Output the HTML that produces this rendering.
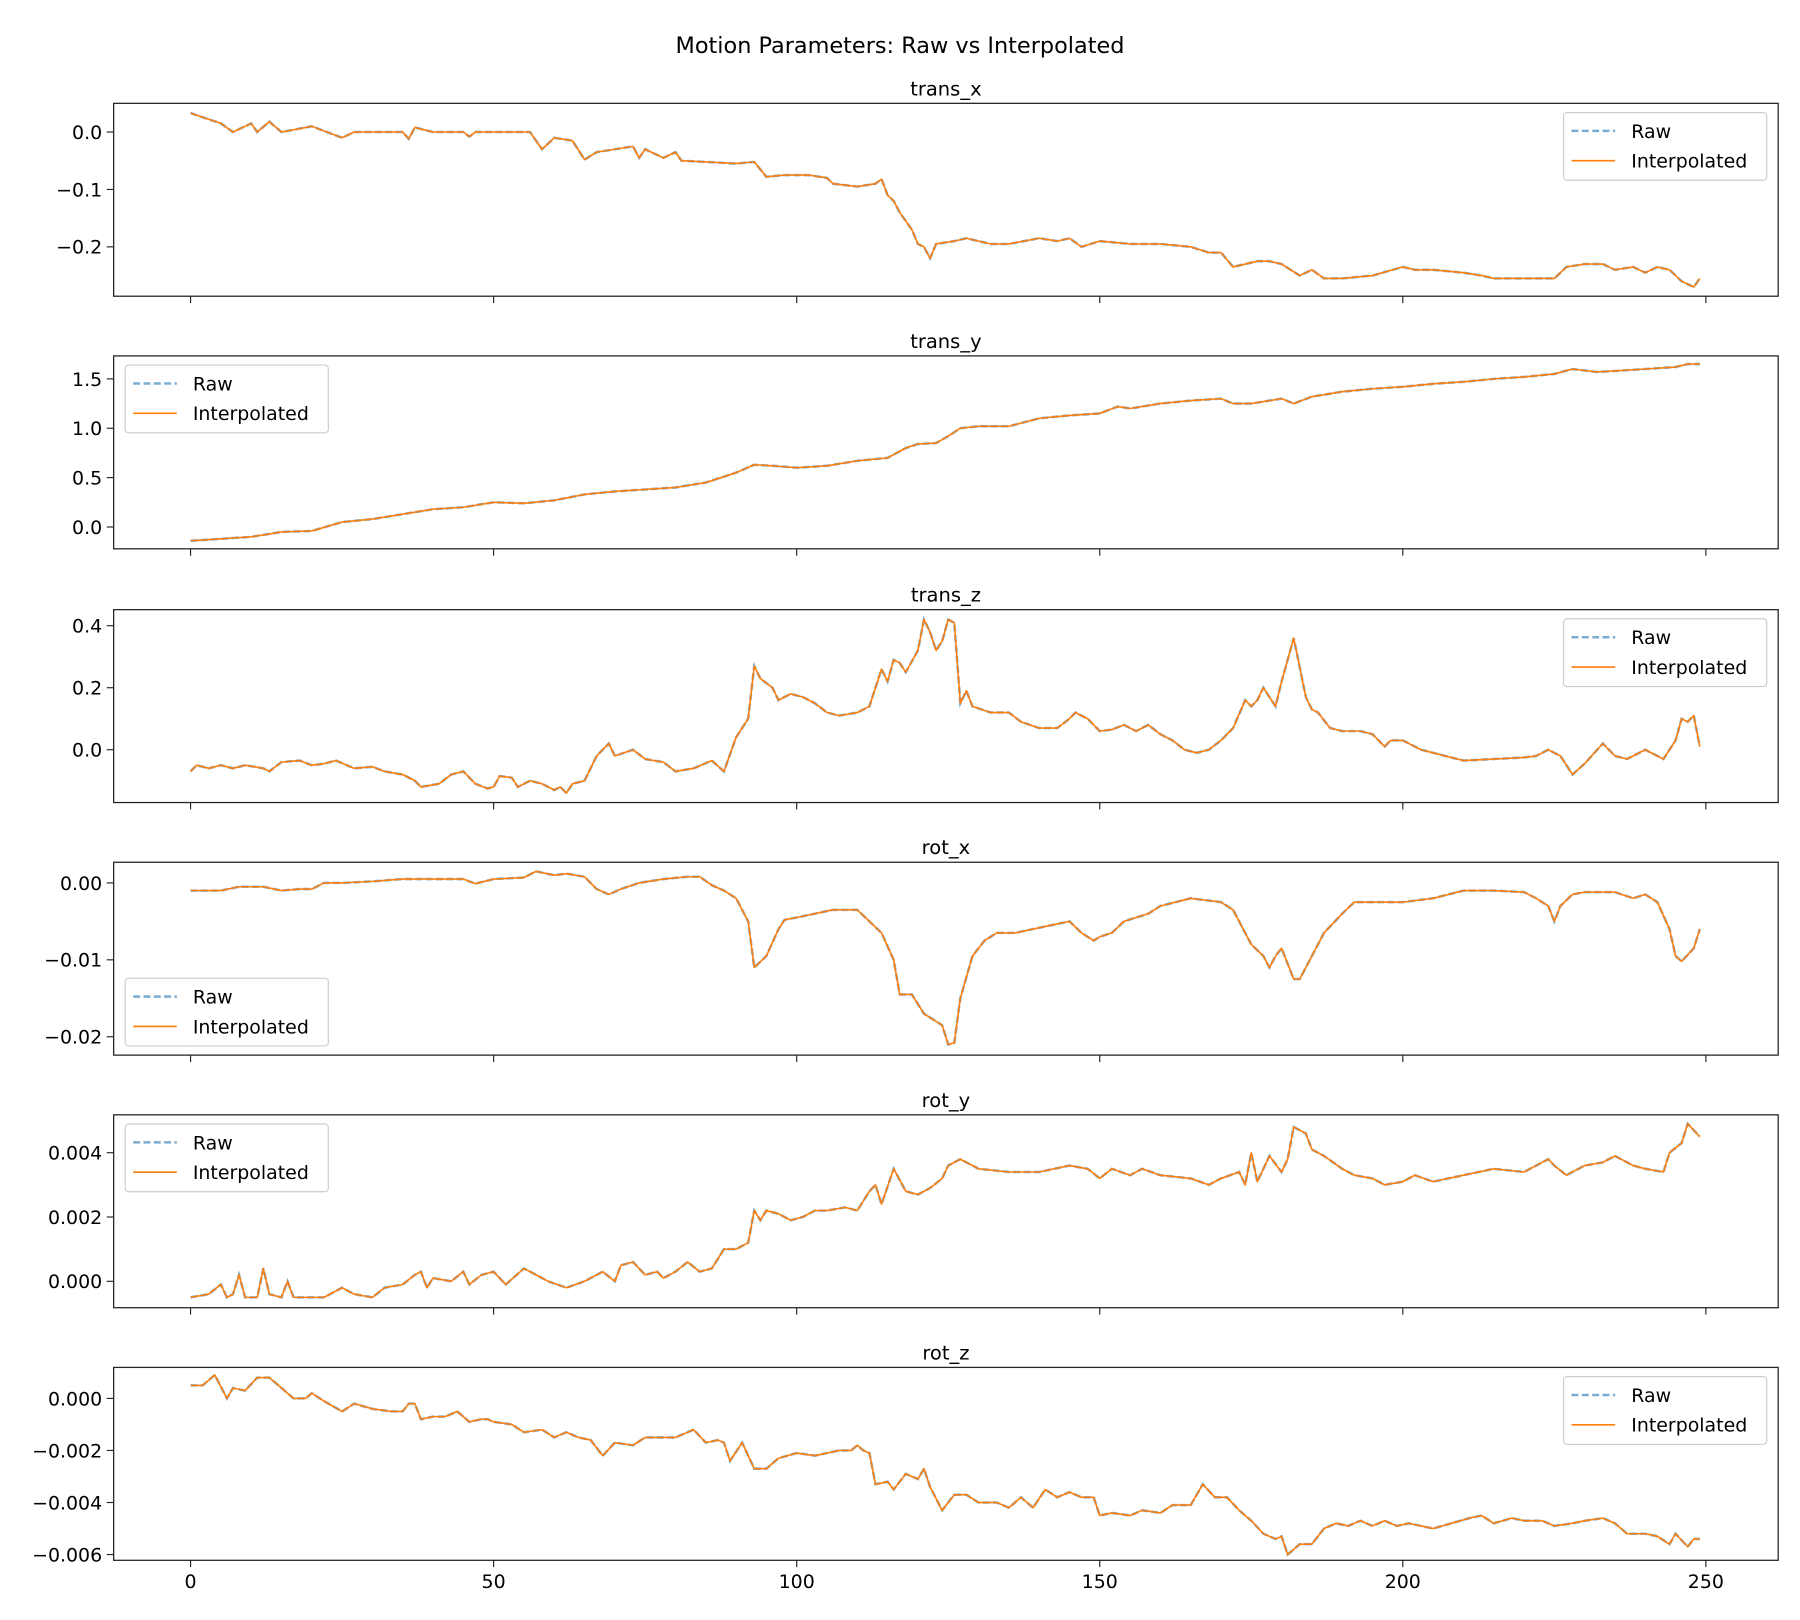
<!DOCTYPE html>
<html><head><meta charset="utf-8"><style>
html,body{margin:0;padding:0;background:#fff;}
svg{display:block;font-family:"DejaVu Sans","Liberation Sans",sans-serif;}
</style></head><body>
<svg id="fig" width="1800" height="1620" viewBox="0 0 1568 1411" preserveAspectRatio="none" xmlns="http://www.w3.org/2000/svg">
<rect width="1568" height="1411" fill="#fff"/>
<text x="784" y="46" font-size="19.5" text-anchor="middle">Motion Parameters: Raw vs Interpolated</text>
</svg>
<script>
const transXFrames=[0,5,7,10,11,13,15,20,25,27,35,36,37,40,45,46,47,56,58,60,63,65,67,70,73,74,75,78,80,81,85,90,93,95,98,102,105,106,110,113,114,115,116,117,119,120,121,122,123,126,128,132,135,140,143,145,147,150,155,160,165,168,170,172,174,176,178,180,183,185,187,190,195,200,202,205,210,213,215,225,227,230,233,235,238,240,242,244,246,248,249];
const transXValues=[0.033,0.015,0.0,0.015,0.0,0.018,0.0,0.01,-0.01,0.0,0.0,-0.012,0.008,0.0,0.0,-0.008,0.0,0.0,-0.03,-0.01,-0.015,-0.048,-0.035,-0.03,-0.025,-0.045,-0.03,-0.045,-0.035,-0.05,-0.052,-0.055,-0.052,-0.078,-0.075,-0.075,-0.08,-0.09,-0.095,-0.09,-0.082,-0.11,-0.12,-0.14,-0.17,-0.195,-0.2,-0.22,-0.195,-0.19,-0.185,-0.195,-0.195,-0.185,-0.19,-0.185,-0.2,-0.19,-0.195,-0.195,-0.2,-0.21,-0.21,-0.235,-0.23,-0.225,-0.225,-0.23,-0.25,-0.24,-0.255,-0.255,-0.25,-0.235,-0.24,-0.24,-0.245,-0.25,-0.255,-0.255,-0.235,-0.23,-0.23,-0.24,-0.235,-0.245,-0.235,-0.24,-0.26,-0.27,-0.255];
const transYFrames=[0,10,15,20,25,30,35,40,45,50,55,60,65,70,75,80,85,90,93,96,100,105,110,115,118,120,123,125,127,130,135,140,145,150,153,155,160,165,170,172,175,180,182,185,190,195,200,205,210,215,220,225,228,232,235,240,245,247,249];
const transYValues=[-0.14,-0.1,-0.05,-0.04,0.05,0.08,0.13,0.18,0.2,0.25,0.24,0.27,0.33,0.36,0.38,0.4,0.45,0.55,0.63,0.62,0.6,0.62,0.67,0.7,0.8,0.84,0.85,0.92,1.0,1.02,1.02,1.1,1.13,1.15,1.22,1.2,1.25,1.28,1.3,1.25,1.25,1.3,1.25,1.32,1.37,1.4,1.42,1.45,1.47,1.5,1.52,1.55,1.6,1.57,1.58,1.6,1.62,1.65,1.65];
const transZFrames=[0,1,3,5,7,9,12,13,15,18,20,22,24,27,30,32,35,37,38,41,43,45,47,49,50,51,53,54,56,58,60,61,62,63,65,67,69,70,73,75,78,80,83,86,88,90,92,93,94,96,97,99,101,103,105,107,110,112,113,114,115,116,117,118,120,121,122,123,124,125,126,127,128,129,132,135,137,140,143,145,146,148,150,152,154,156,158,160,162,164,166,168,170,172,174,175,176,177,178,179,180,182,184,185,186,188,190,193,195,197,198,200,203,205,207,210,215,220,222,224,226,228,230,233,235,237,240,243,245,246,247,248,249];
const transZValues=[-0.07,-0.05,-0.06,-0.05,-0.06,-0.05,-0.06,-0.07,-0.04,-0.035,-0.05,-0.045,-0.035,-0.06,-0.055,-0.07,-0.08,-0.1,-0.12,-0.11,-0.08,-0.07,-0.11,-0.125,-0.12,-0.085,-0.09,-0.12,-0.1,-0.11,-0.13,-0.12,-0.14,-0.11,-0.1,-0.02,0.02,-0.02,0.0,-0.03,-0.04,-0.07,-0.06,-0.035,-0.07,0.04,0.1,0.27,0.23,0.2,0.16,0.18,0.17,0.15,0.12,0.11,0.12,0.14,0.2,0.26,0.22,0.29,0.28,0.25,0.32,0.42,0.38,0.32,0.35,0.42,0.41,0.15,0.19,0.14,0.12,0.12,0.09,0.07,0.07,0.1,0.12,0.1,0.06,0.065,0.08,0.06,0.08,0.05,0.03,0.0,-0.01,0.0,0.03,0.07,0.16,0.14,0.16,0.2,0.17,0.14,0.22,0.36,0.17,0.13,0.12,0.07,0.06,0.06,0.05,0.01,0.03,0.03,0.0,-0.01,-0.02,-0.035,-0.03,-0.025,-0.02,0.0,-0.02,-0.08,-0.045,0.02,-0.02,-0.03,0.0,-0.03,0.03,0.1,0.09,0.11,0.01];
const rotXFrames=[0,5,8,12,15,18,20,22,25,30,35,40,45,47,50,55,57,60,62,65,67,69,71,74,78,82,84,86,88,90,92,93,95,97,98,100,103,106,110,112,114,116,117,119,121,122,123,124,125,126,127,129,131,133,136,139,142,145,147,149,150,152,154,156,158,160,165,170,172,175,177,178,179,180,182,183,185,187,190,192,195,200,205,210,215,220,222,224,225,226,228,230,235,238,240,242,244,245,246,248,249];
const rotXValues=[-0.001,-0.001,-0.0005,-0.0005,-0.001,-0.0008,-0.0008,0.0,0.0,0.0002,0.0005,0.0005,0.0005,-0.0001,0.0005,0.0007,0.0015,0.001,0.0012,0.0008,-0.0008,-0.0015,-0.0008,0.0,0.0005,0.0008,0.0008,-0.0003,-0.001,-0.002,-0.005,-0.011,-0.0095,-0.006,-0.0048,-0.0045,-0.004,-0.0035,-0.0035,-0.005,-0.0065,-0.01,-0.0145,-0.0145,-0.017,-0.0175,-0.018,-0.0185,-0.021,-0.0208,-0.015,-0.0095,-0.0075,-0.0065,-0.0065,-0.006,-0.0055,-0.005,-0.0065,-0.0075,-0.007,-0.0065,-0.005,-0.0045,-0.004,-0.003,-0.002,-0.0025,-0.0035,-0.008,-0.0095,-0.011,-0.0095,-0.0085,-0.0125,-0.0125,-0.0095,-0.0065,-0.004,-0.0025,-0.0025,-0.0025,-0.002,-0.001,-0.001,-0.0012,-0.002,-0.003,-0.005,-0.003,-0.0015,-0.0012,-0.0012,-0.002,-0.0015,-0.0025,-0.006,-0.0095,-0.0102,-0.0085,-0.006];
const rotYFrames=[0,3,5,6,7,8,9,11,12,13,15,16,17,20,22,25,27,30,32,35,37,38,39,40,43,45,46,48,50,52,55,57,59,62,65,68,70,71,73,75,77,78,80,82,84,86,88,90,92,93,94,95,97,99,101,103,105,108,110,112,113,114,116,118,120,122,124,125,127,130,135,140,145,148,150,152,155,157,160,165,168,170,173,174,175,176,178,180,181,182,184,185,187,190,192,195,197,200,202,205,210,215,220,222,224,225,227,230,233,235,238,240,243,244,246,247,249];
const rotYValues=[-0.0005,-0.0004,-0.0001,-0.0005,-0.0004,0.0002,-0.0005,-0.0005,0.0004,-0.0004,-0.0005,0.0,-0.0005,-0.0005,-0.0005,-0.0002,-0.0004,-0.0005,-0.0002,-0.0001,0.0002,0.0003,-0.0002,0.0001,0.0,0.0003,-0.0001,0.0002,0.0003,-0.0001,0.0004,0.0002,0.0,-0.0002,0.0,0.0003,0.0,0.0005,0.0006,0.0002,0.0003,0.0001,0.0003,0.0006,0.0003,0.0004,0.001,0.001,0.0012,0.0022,0.0019,0.0022,0.0021,0.0019,0.002,0.0022,0.0022,0.0023,0.0022,0.0028,0.003,0.0024,0.0035,0.0028,0.0027,0.0029,0.0032,0.0036,0.0038,0.0035,0.0034,0.0034,0.0036,0.0035,0.0032,0.0035,0.0033,0.0035,0.0033,0.0032,0.003,0.0032,0.0034,0.003,0.004,0.0031,0.0039,0.0034,0.0038,0.0048,0.0046,0.0041,0.0039,0.0035,0.0033,0.0032,0.003,0.0031,0.0033,0.0031,0.0033,0.0035,0.0034,0.0036,0.0038,0.0036,0.0033,0.0036,0.0037,0.0039,0.0036,0.0035,0.0034,0.004,0.0043,0.0049,0.0045];
const rotZFrames=[0,2,4,6,7,9,11,13,15,17,19,20,22,25,27,30,33,35,36,37,38,40,42,44,46,48,49,50,53,55,58,60,62,64,66,68,70,73,75,78,80,83,85,87,88,89,91,93,95,97,100,103,105,107,109,110,111,112,113,115,116,118,120,121,122,124,126,128,130,133,135,137,139,141,143,145,147,149,150,152,155,157,160,162,165,167,169,171,173,175,177,179,180,181,183,185,187,189,191,193,195,197,199,201,203,205,208,211,213,215,218,220,223,225,228,230,233,235,237,240,242,244,245,247,248,249];
const rotZValues=[0.0005,0.0005,0.0009,0.0,0.0004,0.0003,0.0008,0.0008,0.0004,0.0,0.0,0.0002,-0.0001,-0.0005,-0.0002,-0.0004,-0.0005,-0.0005,-0.0002,-0.0002,-0.0008,-0.0007,-0.0007,-0.0005,-0.0009,-0.0008,-0.0008,-0.0009,-0.001,-0.0013,-0.0012,-0.0015,-0.0013,-0.0015,-0.0016,-0.0022,-0.0017,-0.0018,-0.0015,-0.0015,-0.0015,-0.0012,-0.0017,-0.0016,-0.0017,-0.0024,-0.0017,-0.0027,-0.0027,-0.0023,-0.0021,-0.0022,-0.0021,-0.002,-0.002,-0.0018,-0.002,-0.0021,-0.0033,-0.0032,-0.0035,-0.0029,-0.0031,-0.0027,-0.0034,-0.0043,-0.0037,-0.0037,-0.004,-0.004,-0.0042,-0.0038,-0.0042,-0.0035,-0.0038,-0.0036,-0.0038,-0.0038,-0.0045,-0.0044,-0.0045,-0.0043,-0.0044,-0.0041,-0.0041,-0.0033,-0.0038,-0.0038,-0.0043,-0.0047,-0.0052,-0.0054,-0.0053,-0.006,-0.0056,-0.0056,-0.005,-0.0048,-0.0049,-0.0047,-0.0049,-0.0047,-0.0049,-0.0048,-0.0049,-0.005,-0.0048,-0.0046,-0.0045,-0.0048,-0.0046,-0.0047,-0.0047,-0.0049,-0.0048,-0.0047,-0.0046,-0.0048,-0.0052,-0.0052,-0.0053,-0.0056,-0.0052,-0.0057,-0.0054,-0.0054];
const transXTicks=[0.0,-0.1,-0.2], transXTickLabels=["0.0","−0.1","−0.2"];
const transYTicks=[0,0.5,1,1.5], transYTickLabels=["0.0","0.5","1.0","1.5"];
const transZTicks=[0,0.2,0.4], transZTickLabels=["0.0","0.2","0.4"];
const rotXTicks=[0,-0.01,-0.02], rotXTickLabels=["0.00","−0.01","−0.02"];
const rotYTicks=[0,0.002,0.004], rotYTickLabels=["0.000","0.002","0.004"];
const rotZTicks=[0,-0.002,-0.004,-0.006], rotZTickLabels=["0.000","−0.002","−0.004","−0.006"];
const xTicks=[0,50,100,150,200,250];

const panels=[
 {name:"trans_x",fr:transXFrames,v:transXValues,ticks:transXTicks,labels:transXTickLabels,top:90,v0:0,p0:115,v1:-0.2,p1:215,leg:"ur"},
 {name:"trans_y",fr:transYFrames,v:transYValues,ticks:transYTicks,labels:transYTickLabels,top:310,v0:0,p0:459,v1:1.5,p1:330,leg:"ul"},
 {name:"trans_z",fr:transZFrames,v:transZValues,ticks:transZTicks,labels:transZTickLabels,top:531,v0:0,p0:653,v1:0.4,p1:545,leg:"ur"},
 {name:"rot_x",fr:rotXFrames,v:rotXValues,ticks:rotXTicks,labels:rotXTickLabels,top:751,v0:0,p0:769,v1:-0.02,p1:903,leg:"ll"},
 {name:"rot_y",fr:rotYFrames,v:rotYValues,ticks:rotYTicks,labels:rotYTickLabels,top:971,v0:0,p0:1116,v1:0.004,p1:1004,leg:"ul"},
 {name:"rot_z",fr:rotZFrames,v:rotZValues,ticks:rotZTicks,labels:rotZTickLabels,top:1191,v0:0,p0:1218,v1:-0.006,p1:1354,leg:"ur"}
];
const NS="http://www.w3.org/2000/svg", svg=document.getElementById("fig");
const L=99,R=1549,H=168;
const xs=f=>166+f*(1486-166)/250;
function mk(tag,attrs,parent,txt){const e=document.createElementNS(NS,tag);for(const k in attrs)e.setAttribute(k,attrs[k]);if(txt!==undefined)e.textContent=txt;(parent||svg).appendChild(e);return e;}
panels.forEach((p,i)=>{
 const g=mk("g",{});
 
 
 const ys=v=>p.p0+(v-p.v0)*(p.p1-p.p0)/(p.v1-p.v0);
 const bot=p.top+H;
 const t=mk("text",{x:(L+R)/2,y:p.top-7,"font-size":"17","text-anchor":"middle"},g,p.name);
 
 
 p.ticks.forEach((tv,j)=>{
  const y=ys(tv);
  mk("line",{x1:L-6,x2:L,y1:y,y2:y,stroke:"#222","stroke-width":1},g);
  const tl=mk("text",{x:L-10,y:y+6,"font-size":"16.5","text-anchor":"end"},g,p.labels[j]);
  
  
 });
 xTicks.forEach(xv=>{
  mk("line",{x1:xs(xv),x2:xs(xv),y1:bot,y2:bot+6,stroke:"#222","stroke-width":1},g);
  if(i===5){const xl=mk("text",{x:xs(xv),y:bot+24,"font-size":"16.5","text-anchor":"middle"},g,String(xv));
   
   }
 });
 const d=p.fr.map((f,k)=>(k?"L":"M")+xs(f).toFixed(2)+","+ys(p.v[k]).toFixed(2)).join("");
 const raw=mk("path",{d:d,fill:"none",stroke:"#1f77b4","stroke-opacity":0.6,"stroke-width":2.2,"stroke-dasharray":"6,3"},g);
 
 
 const itp=mk("path",{d:d,fill:"none",stroke:"#ff7f0e","stroke-width":1.4,"stroke-linejoin":"round"},g);
 
 
 mk("rect",{x:L,y:p.top,width:R-L,height:H,fill:"none",stroke:"#222","stroke-width":1.1},g);
 let lx,ly;const lw=177,lh=59;
 if(p.leg==="ur"){lx=R-10-lw;ly=p.top+8;}
 else if(p.leg==="ul"){lx=L+10;ly=p.top+8;}
 else {lx=L+10;ly=bot-8-lh;}
 const lg=mk("g",{},g);
 
 
 mk("rect",{x:lx,y:ly,width:lw,height:lh,rx:3,fill:"#fff","fill-opacity":0.8,stroke:"#ccc","stroke-width":1},lg);
 mk("line",{x1:lx+7,x2:lx+45,y1:ly+16,y2:ly+16,stroke:"#1f77b4","stroke-opacity":0.6,"stroke-width":2.2,"stroke-dasharray":"6,3"},lg);
 const e1=mk("text",{x:lx+59,y:ly+22,"font-size":"16.5"},lg,"Raw");
 
 
 mk("line",{x1:lx+7,x2:lx+45,y1:ly+42,y2:ly+42,stroke:"#ff7f0e","stroke-width":1.4},lg);
 const e2=mk("text",{x:lx+59,y:ly+48,"font-size":"16.5"},lg,"Interpolated");
 
 
});
</script>
</body></html>
